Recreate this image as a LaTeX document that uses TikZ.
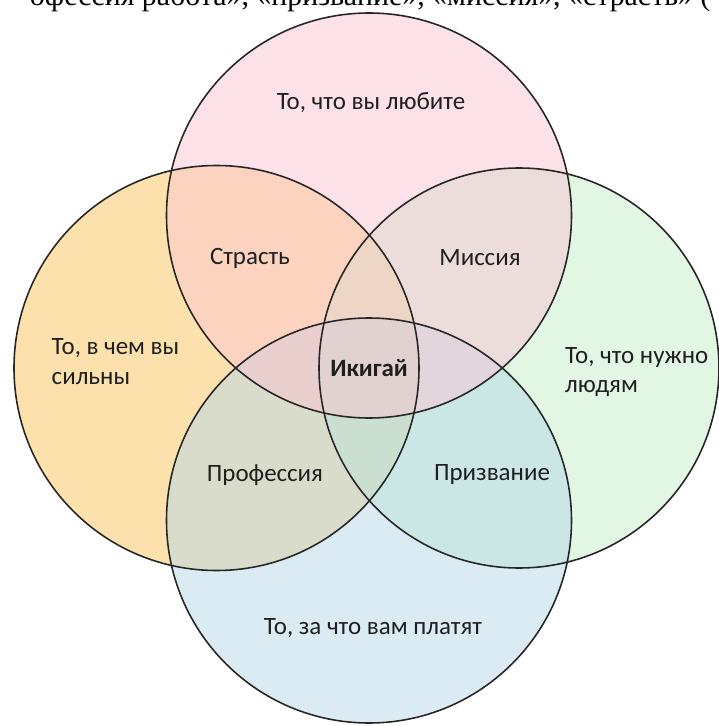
\documentclass[tikz,border=0pt]{standalone}
\usepackage{fontspec}
\setmainfont{Carlito}
\newfontfamily\cutfont{Liberation Serif}
\definecolor{lovecol}{RGB}{249,196,210}
\definecolor{goodcol}{RGB}{252,196,92}
\definecolor{needcol}{RGB}{196,238,200}
\definecolor{paidcol}{RGB}{182,216,232}
\tikzset{
  ringfill/.style={fill opacity=0.5},
  lbl/.style={font=\fontsize{14.2}{17}\selectfont, text=black!88, align=left},
}
\begin{document}
\begin{tikzpicture}
\useasboundingbox (-7.38,-7.16) rectangle (7.0,7.36);
\clip (-7.38,-7.16) rectangle (7.0,7.36);
% line cut off at the top of the page
\node[anchor=base east, font=\cutfont\fontsize{17}{20}\selectfont] (cut) at (6.95,7.245) {офессия работа», «призвание», «миссия», «страсть» (};
% edit here for the fills
\fill[goodcol, ringfill] (-3.05,0) circle (4.05);
\fill[needcol, ringfill] (3,0) circle (4.0);
\fill[paidcol, ringfill] (0,-3.05) circle (4.05);
\fill[lovecol, ringfill] (0,3.05) circle (4.05);
% edit here for the outlines
\foreach \x/\y/\r in {0/3.05/4.05, -3.05/0/4.05, 3/0/4.0, 0/-3.05/4.05}
\draw[black!85, line width=0.9pt] (\x,\y) circle (\r);
% labels
\node[lbl] (love) at (0.04,5.30) {То, что вы любите};
\node[lbl] (passion) at (-2.38,2.20) {Страсть};
\node[lbl] (mission) at (2.22,2.20) {Миссия};
\node[lbl, anchor=west] (good) at (-6.47,0.12) {То, в чем вы\\сильны};
\node[lbl, font=\bfseries\fontsize{14.2}{17}\selectfont] (ikigai) at (0,0) {Икигай};
\node[lbl, anchor=west] (need) at (3.8,-0.08) {То, что нужно\\людям};
\node[lbl] (profession) at (-2.08,-2.14) {Профессия};
\node[lbl] (vocation) at (2.46,-2.14) {Призвание};
\node[lbl] (paid) at (0.08,-5.2) {То, за что вам платят};
\end{tikzpicture}
\end{document}
